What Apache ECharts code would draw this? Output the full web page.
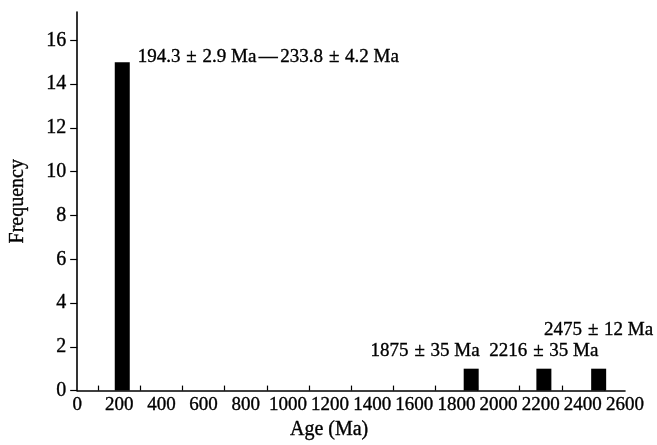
<!DOCTYPE html>
<html>
<head>
<meta charset="utf-8">
<script src="https://cdn.jsdelivr.net/npm/echarts@6/dist/echarts.min.js"></script>
<style>
  html, body { margin: 0; padding: 0; background: #fff; }
  #main { width: 657px; height: 445px; }
</style>
</head>
<body>
<div id="main"></div>
<script>
// bar centres (Ma) and counts
var ages = [214, 1870, 2215, 2475];
var counts = [15, 1, 1, 1];
var ageLabels = [
  "194.3{pm|±}2.9 Ma{dash|—}233.8{pm|±}4.2 Ma",
  "1875{pm|±}35 Ma",
  "2216{pm|±}35 Ma",
  "2475{pm|±}12 Ma"
];
var xLabelTicks = [0, 200, 400, 600, 800, 1000, 1200, 1400, 1600, 1800, 2000, 2200, 2400, 2600];
var xMarkTicks = [100, 300, 500, 700, 900, 1100, 1300, 1500, 1700, 1900, 2100, 2300, 2500];
var yTicks = [0, 2, 4, 6, 8, 10, 12, 14, 16];

var font = "Liberation Serif";
var ink = { textBorderColor: "#000", textBorderWidth: 0.35 };
var labelPos = [
  { position: [23, -5], align: "left" },
  { position: [16, -18], align: "right" },
  { position: [7.5, -18], align: "center" },
  { position: [7.5, -39], align: "center" }
];

var seriesData = ages.map(function (a, i) {
  return {
    value: [a, counts[i]],
    label: {
      show: true,
      position: labelPos[i].position,
      align: labelPos[i].align,
      verticalAlign: "middle",
      formatter: ageLabels[i]
    }
  };
});

var chartDom = document.getElementById("main");
var myChart = echarts.init(chartDom);
var option = {
  animation: false,
  backgroundColor: "#fff",
  grid: { left: 73, right: 32, top: 12, bottom: 52 },
  xAxis: {
    type: "value",
    min: 0,
    max: 2600,
    name: "Age (Ma)",
    nameLocation: "middle",
    nameGap: 29,
    nameTextStyle: Object.assign({ fontFamily: font, fontSize: 20, color: "#000", padding: [0, 44, 0, 0] }, ink),
    splitLine: { show: false },
    axisLine: { lineStyle: { color: "#000", width: 1.6 } },
    axisTick: { show: true, inside: true, length: 5, customValues: xMarkTicks, lineStyle: { color: "#000", width: 1.2 } },
    axisLabel: Object.assign({
      customValues: xLabelTicks, fontFamily: font, fontSize: 19, color: "#000", margin: 5,
      formatter: function (v) { return String(v); }
    }, ink)
  },
  yAxis: {
    type: "value",
    min: 0,
    max: 17.3,
    name: "Frequency",
    nameLocation: "middle",
    nameGap: 49,
    nameTextStyle: Object.assign({ fontFamily: font, fontSize: 20, color: "#000" }, ink),
    splitLine: { show: false },
    axisLine: { show: true, lineStyle: { color: "#000", width: 1.6 } },
    axisTick: { show: true, length: 7, customValues: yTicks, lineStyle: { color: "#000", width: 1.2 } },
    axisLabel: Object.assign({ customValues: yTicks, fontFamily: font, fontSize: 20, color: "#000", margin: 11 }, ink)
  },
  series: [
    {
      type: "bar",
      barWidth: 15,
      itemStyle: { color: "#000" },
      label: Object.assign({
        fontFamily: font,
        fontSize: 19,
        color: "#000",
        rich: {
          pm: Object.assign({ fontFamily: font, fontSize: 19, color: "#000", width: 22, align: "center" }, ink),
          dash: Object.assign({ fontFamily: font, fontSize: 19, color: "#000", width: 24, align: "center" }, ink)
        }
      }, ink),
      data: seriesData
    }
  ]
};
myChart.setOption(option);
</script>
</body>
</html>
